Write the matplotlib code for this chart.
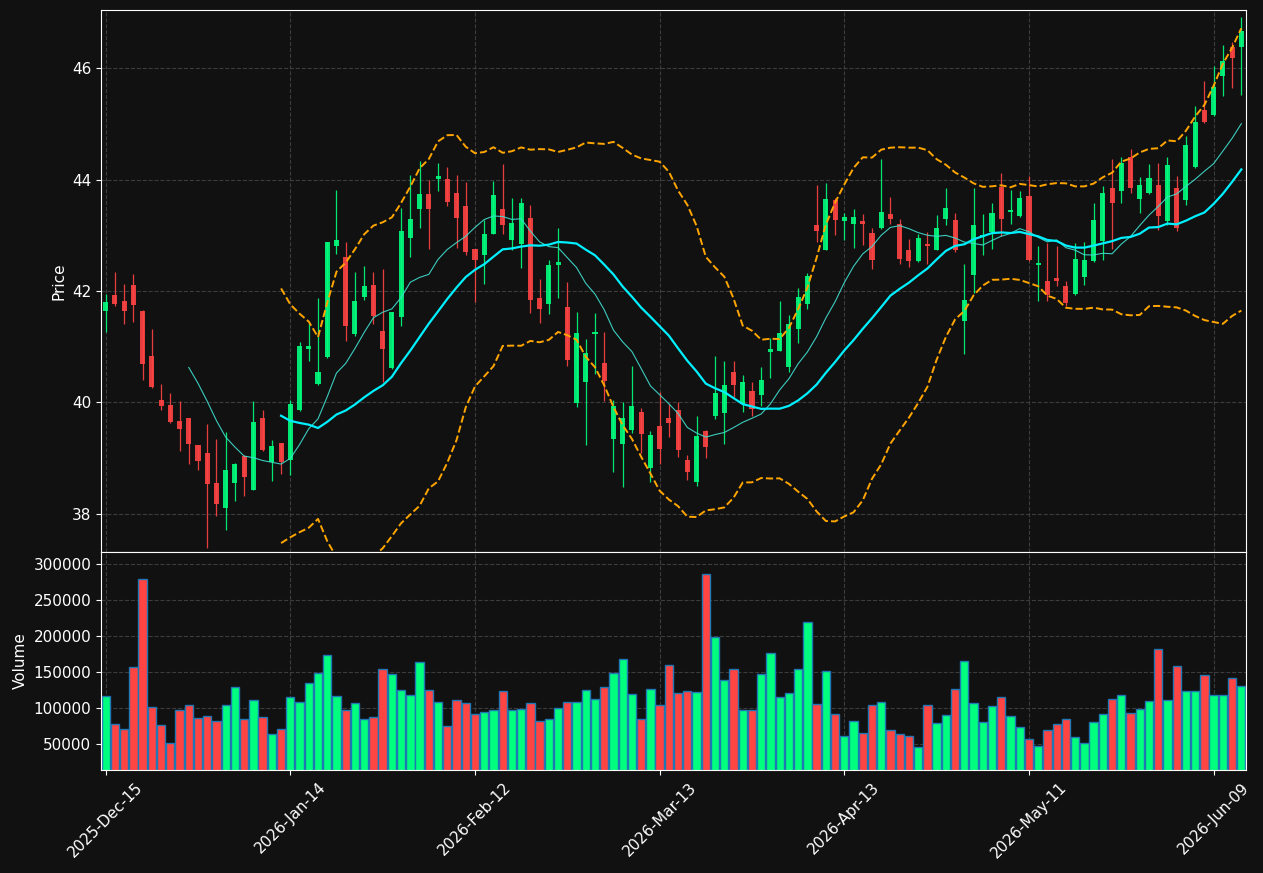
#!/usr/bin/env python3
import matplotlib
matplotlib.use('Agg')  # no display, just save a png
import matplotlib.pyplot as plt
import numpy as np
import pandas as pd
from matplotlib.ticker import FuncFormatter

# daily OHLC, one row per trading day (124 bars)
opens = [41.64, 41.92, 41.82, 42.10, 41.64, 40.83, 40.04, 39.95, 39.66, 39.71,
         39.23, 39.09, 38.55, 38.10, 38.55, 39.04, 38.43, 39.71, 38.93, 39.26,
         38.97, 39.86, 40.96, 40.33, 40.81, 42.81, 42.62, 41.23, 41.90, 42.10,
         41.28, 40.61, 41.54, 42.96, 43.47, 43.74, 44.01, 44.01, 43.76, 43.52,
         42.75, 42.65, 43.03, 43.47, 42.92, 42.84, 43.31, 41.87, 41.76, 42.46,
         41.71, 39.98, 40.37, 41.22, 40.70, 39.34, 39.25, 39.50, 39.82, 38.82,
         39.58, 39.71, 39.86, 38.96, 38.57, 39.49, 39.75, 39.81, 40.54, 39.97,
         40.20, 40.14, 40.91, 40.93, 40.63, 41.32, 41.76, 43.18, 42.74, 43.64,
         43.25, 43.21, 43.25, 43.04, 43.14, 43.38, 43.20, 42.74, 42.54, 42.84,
         42.74, 43.30, 43.27, 41.46, 42.29, 42.98, 43.06, 43.87, 43.42, 43.34,
         43.71, 42.46, 42.18, 42.23, 42.09, 41.95, 42.25, 42.54, 42.90, 43.86,
         43.79, 44.40, 43.66, 43.76, 43.90, 43.25, 43.86, 43.63, 44.23, 45.26,
         45.16, 45.87, 46.38, 46.38]
highs = [41.95, 42.35, 42.13, 42.31, 41.66, 41.32, 40.33, 40.17, 40.02, 39.72,
         39.24, 39.61, 39.34, 39.47, 38.91, 39.05, 40.02, 39.86, 39.32, 39.27,
         40.05, 41.08, 41.43, 41.87, 42.89, 43.81, 42.89, 42.35, 42.45, 42.35,
         42.40, 41.63, 43.49, 44.08, 44.33, 43.99, 44.31, 44.23, 44.08, 43.96,
         42.76, 43.28, 43.98, 44.28, 43.68, 43.68, 43.55, 42.22, 42.56, 43.13,
         42.17, 41.63, 41.13, 41.60, 41.27, 40.05, 40.00, 40.66, 39.90, 39.49,
         40.19, 39.97, 40.00, 39.06, 39.75, 39.50, 40.83, 40.75, 40.75, 40.49,
         40.36, 40.63, 41.15, 41.82, 41.57, 42.06, 42.33, 43.90, 43.94, 43.68,
         43.41, 43.47, 43.39, 43.14, 44.37, 43.69, 43.30, 42.94, 43.03, 43.06,
         43.36, 43.86, 43.41, 42.48, 43.86, 43.38, 43.59, 44.13, 43.81, 43.79,
         44.06, 42.81, 42.86, 42.81, 42.18, 42.86, 42.88, 43.58, 43.88, 44.38,
         44.40, 44.55, 44.05, 44.29, 44.31, 44.40, 44.07, 44.79, 45.33, 45.78,
         46.05, 46.43, 46.47, 46.93]
lows = [41.26, 41.73, 41.40, 41.44, 40.41, 40.25, 39.87, 39.63, 39.12, 38.89,
        38.79, 37.38, 37.96, 37.71, 38.23, 38.31, 38.42, 39.12, 38.58, 38.72,
        38.70, 39.85, 40.74, 40.32, 40.80, 42.67, 41.10, 41.19, 41.84, 41.40,
        40.36, 40.60, 41.38, 42.61, 43.13, 42.75, 43.80, 43.52, 42.77, 42.64,
        41.81, 42.13, 43.02, 43.03, 42.73, 42.42, 41.61, 41.42, 41.59, 41.88,
        40.66, 39.92, 39.24, 40.51, 40.02, 38.74, 38.48, 39.45, 39.09, 38.57,
        38.90, 39.37, 39.02, 38.60, 38.49, 39.00, 39.70, 39.25, 40.10, 39.82,
        39.75, 39.94, 40.44, 40.92, 40.55, 41.07, 41.67, 42.89, 42.73, 43.01,
        42.91, 42.78, 42.83, 42.40, 43.12, 43.21, 42.48, 42.44, 42.53, 42.48,
        42.73, 43.18, 42.71, 40.86, 41.96, 42.64, 42.75, 42.99, 43.21, 43.33,
        42.54, 41.82, 41.82, 42.09, 41.74, 41.93, 42.10, 42.53, 42.55, 42.75,
        43.58, 43.76, 43.40, 43.75, 43.10, 43.18, 43.08, 43.55, 44.22, 45.02,
        45.15, 45.50, 45.64, 45.52]
closes = [41.80, 41.77, 41.64, 41.75, 40.68, 40.28, 39.93, 39.65, 39.52, 39.25,
          38.95, 38.53, 38.17, 38.78, 38.90, 38.66, 39.64, 39.14, 39.21, 38.92,
          39.97, 41.02, 41.02, 40.55, 42.88, 42.92, 41.37, 41.82, 42.09, 41.56,
          40.96, 41.62, 43.08, 43.29, 43.74, 43.47, 44.06, 43.60, 43.32, 42.70,
          42.56, 43.03, 43.72, 43.19, 43.22, 43.58, 41.83, 41.68, 42.47, 42.52,
          40.76, 41.25, 40.88, 41.26, 40.39, 39.93, 39.71, 39.94, 39.43, 39.41,
          39.16, 39.63, 39.14, 38.74, 39.39, 39.20, 40.16, 40.32, 40.31, 40.36,
          39.88, 40.41, 40.96, 41.24, 41.40, 41.89, 42.27, 43.08, 43.66, 43.28,
          43.33, 43.33, 43.21, 42.56, 43.42, 43.30, 42.58, 42.54, 42.95, 42.81,
          43.13, 43.50, 42.74, 41.83, 43.18, 43.01, 43.40, 43.30, 43.45, 43.68,
          42.56, 42.50, 41.92, 42.18, 41.79, 42.57, 42.56, 43.27, 43.76, 43.59,
          44.30, 43.86, 43.90, 44.04, 43.35, 44.26, 43.13, 44.62, 45.04, 45.03,
          45.66, 46.13, 46.19, 46.67]
volumes = [116700, 77800, 70800, 156900, 279200, 101400, 76400, 51400, 97200, 104200,
           86100, 88900, 81900, 104200, 129200, 84700, 111100, 87500, 63900, 70800,
           115300, 108300, 134700, 148600, 173600, 116700, 97200, 106900, 84700, 87500,
           154200, 147200, 125000, 118100, 163900, 125000, 108300, 75000, 111100, 106900,
           91700, 94400, 97200, 123600, 97200, 98600, 106900, 81900, 84700, 100000,
           108300, 108300, 125000, 112500, 129200, 148600, 168100, 119400, 84700, 126400,
           104200, 159700, 120800, 123600, 122200, 286100, 198600, 138900, 154200, 97200,
           97200, 147200, 176400, 115300, 120800, 154200, 219400, 105600, 151400, 91700,
           61100, 81900, 65300, 104200, 108300, 69400, 63900, 61100, 45800, 104200,
           79200, 90300, 126400, 165300, 106900, 80600, 102800, 115300, 88900, 73600,
           56900, 47200, 69400, 77800, 84700, 59700, 51400, 80600, 91700, 112500,
           118100, 93100, 98600, 109700, 181900, 111100, 158300, 123600, 123600, 145800,
           118100, 118100, 141700, 130600]
# date labels shown under the volume panel (one every 20 bars)
tick_labels = ['2025-Dec-15', '2026-Jan-14', '2026-Feb-12', '2026-Mar-13',
               '2026-Apr-13', '2026-May-11', '2026-Jun-09']

BG = '#111111'
UP, DOWN = '#00ff7f', '#ff4444'

df = pd.DataFrame({'open': opens, 'high': highs, 'low': lows,
                   'close': closes, 'volume': volumes})
x = np.arange(len(df))
up = df['close'] >= df['open']
cols = np.where(up, UP, DOWN)

# indicators the chart overlays: 10/20 sma + 20 bar bollinger (2 std)
sma10 = df['close'].rolling(10).mean()
sma20 = df['close'].rolling(20).mean()
std20 = df['close'].rolling(20).std(ddof=0)
bb_up = sma20 + 2 * std20
bb_lo = sma20 - 2 * std20

fig = plt.figure(figsize=(12.63, 8.73), dpi=100, facecolor=BG)
ax = fig.add_axes([0.080, 0.3677, 0.9065, 0.6208])
axv = fig.add_axes([0.080, 0.118, 0.9065, 0.2497], sharex=ax)

for a in (ax, axv):
    a.set_facecolor(BG)
    for s in a.spines.values():
        s.set_color('white')
    a.tick_params(colors='white', labelsize=11)
    a.grid(True, color='#3c3c3c', linestyle='--', linewidth=0.8)
    a.set_axisbelow(True)

# candles: wick then body
ax.vlines(x, df['low'], df['high'], color=cols, linewidth=0.9, alpha=0.9)
body_lo = np.minimum(df['open'], df['close'])
body_h = np.maximum((df['close'] - df['open']).abs(), 0.03)
ax.bar(x, body_h, bottom=body_lo, width=0.55, color=cols, alpha=0.9, linewidth=0)

ax.plot(x, sma10, color='#40e0d0', linewidth=0.8, alpha=0.9)
ax.plot(x, sma20, color='#00f0ff', linewidth=1.6)
ax.plot(x, bb_up, color='orange', linestyle='--', linewidth=1.4)
ax.plot(x, bb_lo, color='orange', linestyle='--', linewidth=1.4)

ax.set_ylim(37.31, 47.05)
ax.set_yticks([38, 40, 42, 44, 46])
ax.set_ylabel('Price', color='white', fontsize=11)
ax.tick_params(axis='x', labelbottom=False)

# volume panel
axv.bar(x, df['volume'], width=0.9, color=cols, edgecolor='#1f77b4', linewidth=1)
axv.set_ylim(14300, 317000)
axv.set_yticks(range(50000, 300001, 50000))
axv.yaxis.set_major_formatter(FuncFormatter(lambda v, p: f'{int(v)}'))
axv.set_ylabel('Volume', color='white', fontsize=11)

axv.set_xlim(-0.5, len(df) - 0.5)
axv.set_xticks(range(0, len(df), 20))
axv.set_xticklabels(tick_labels, rotation=45)

fig.savefig('out.png', dpi=100, facecolor=BG)
